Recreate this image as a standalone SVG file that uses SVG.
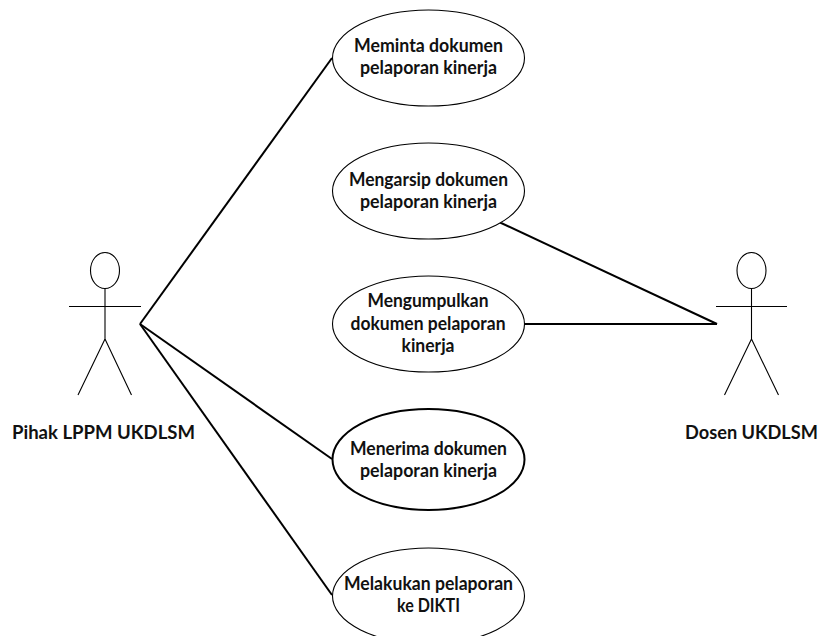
<svg xmlns="http://www.w3.org/2000/svg" width="821" height="636" viewBox="0 0 821 636">
<style>
.bg{fill:#fff}
.uc{fill:#fff;stroke:#000;stroke-width:1.1}
.uc2{fill:#fff;stroke:#000;stroke-width:2}
.a{fill:none;stroke:#000;stroke-width:1.1}
.c{fill:none;stroke:#000;stroke-width:2}
text{font-family:"Lato","Liberation Sans",sans-serif;font-weight:700;font-size:18px;fill:#111;text-anchor:middle}
</style>
<rect class="bg" width="821" height="636"/>
<g id="connectors">
<line class="c" x1="140" y1="324" x2="332" y2="58"/>
<line class="c" x1="140" y1="324" x2="332" y2="459"/>
<line class="c" x1="140" y1="324" x2="332" y2="595"/>
<line class="c" x1="499" y1="222" x2="717" y2="324"/>
<line class="c" x1="525" y1="324" x2="717" y2="324"/>
</g>
<g id="actor-lppm">
<ellipse class="a" cx="105" cy="270.5" rx="14.5" ry="18"/>
<path class="a" d="M105 288.5V339M69 306.5H141M105 339L78 395M105 339L131.500 395"/>
<text x="103.500" y="439" textLength="183" lengthAdjust="spacingAndGlyphs">Pihak LPPM UKDLSM</text>
</g>
<g id="actor-dosen">
<ellipse class="a" cx="751.500" cy="270.5" rx="14.500" ry="18"/>
<path class="a" d="M751.500 288.500V339M716 306.500H787M751.500 339L724.500 395M751.500 339L778.500 395"/>
<text x="751.500" y="439" textLength="133" lengthAdjust="spacingAndGlyphs">Dosen UKDLSM</text>
</g>
<g id="uc-meminta">
<ellipse class="uc" cx="428.500" cy="58" rx="96" ry="48"/>
<text x="428.500" y="52" textLength="149" lengthAdjust="spacingAndGlyphs">Meminta dokumen</text>
<text x="428.500" y="74" textLength="137" lengthAdjust="spacingAndGlyphs">pelaporan kinerja</text>
</g>
<g id="uc-mengarsip">
<ellipse class="uc" cx="428.500" cy="191" rx="96" ry="48"/>
<text x="428.500" y="186" textLength="159" lengthAdjust="spacingAndGlyphs">Mengarsip dokumen</text>
<text x="428.500" y="208" textLength="137" lengthAdjust="spacingAndGlyphs">pelaporan kinerja</text>
</g>
<g id="uc-mengumpulkan">
<ellipse class="uc" cx="428.500" cy="324" rx="96" ry="48"/>
<text x="428" y="307" textLength="121" lengthAdjust="spacingAndGlyphs">Mengumpulkan</text>
<text x="428" y="330" textLength="155" lengthAdjust="spacingAndGlyphs">dokumen pelaporan</text>
<text x="428" y="352" textLength="53" lengthAdjust="spacingAndGlyphs">kinerja</text>
</g>
<g id="uc-menerima">
<ellipse class="uc2" cx="428.500" cy="459.500" rx="96" ry="50.500"/>
<text x="428.500" y="455" textLength="157" lengthAdjust="spacingAndGlyphs">Menerima dokumen</text>
<text x="428.500" y="477" textLength="137" lengthAdjust="spacingAndGlyphs">pelaporan kinerja</text>
</g>
<g id="uc-melakukan">
<ellipse class="uc" cx="428.500" cy="596" rx="96" ry="48"/>
<text x="428.500" y="590" textLength="169" lengthAdjust="spacingAndGlyphs">Melakukan pelaporan</text>
<text x="428.500" y="612" textLength="63" lengthAdjust="spacingAndGlyphs">ke DIKTI</text>
</g>
</svg>
